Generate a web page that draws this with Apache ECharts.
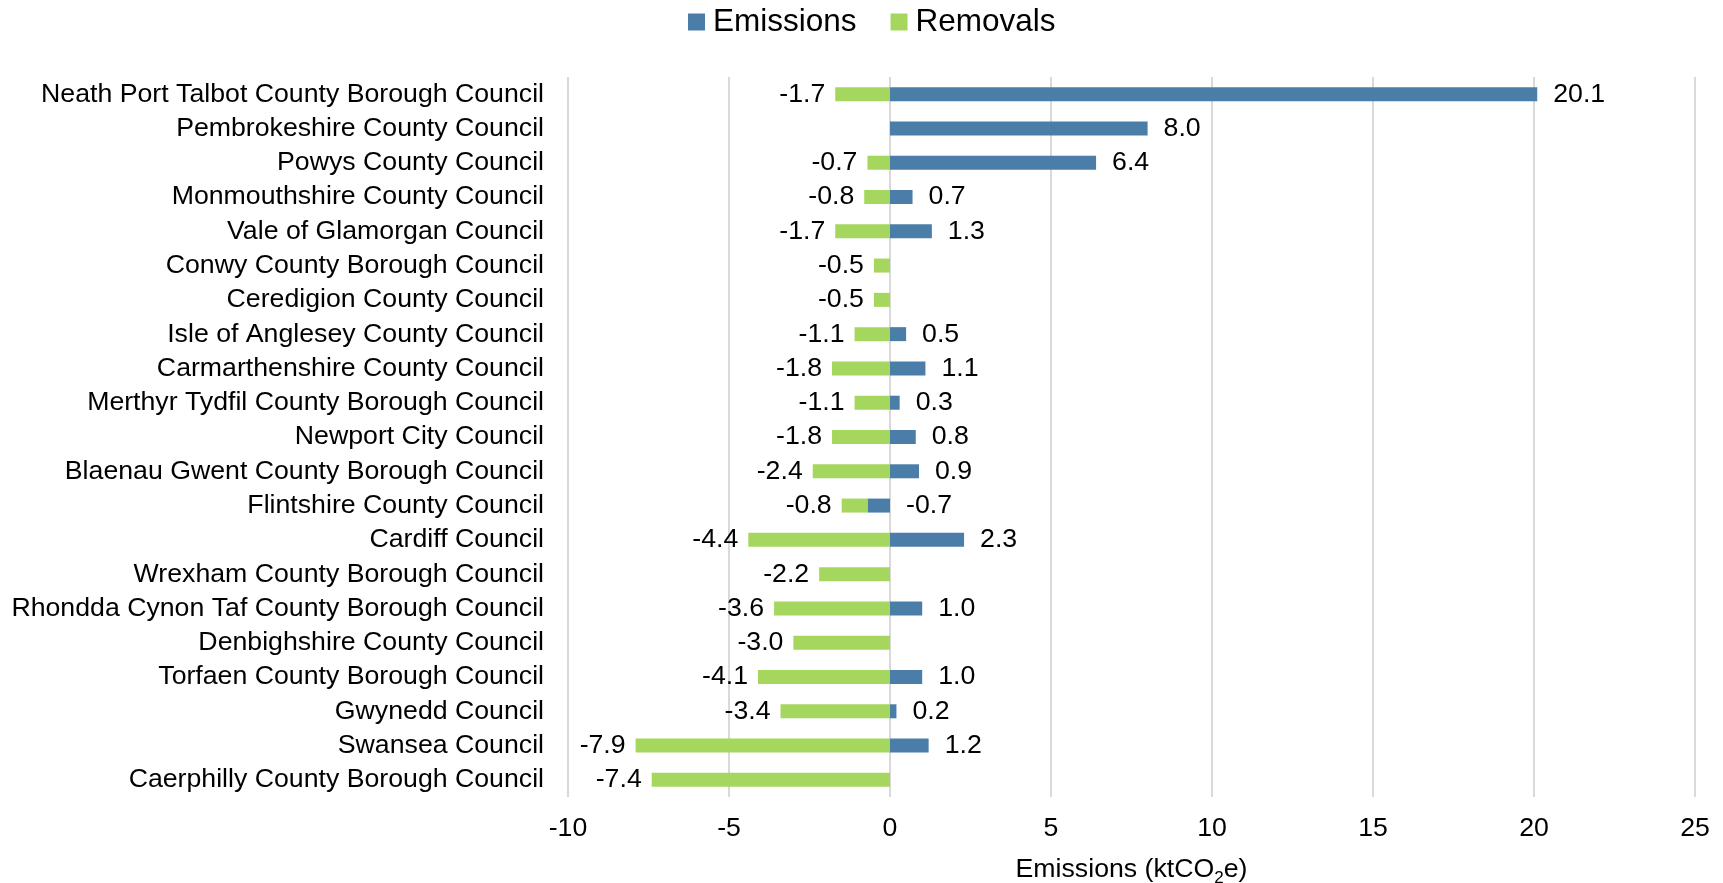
<!DOCTYPE html>
<html>
<head>
<meta charset="utf-8">
<script src="https://cdn.jsdelivr.net/npm/echarts@6/dist/echarts.min.js"></script>
<style>
html,body{margin:0;padding:0;background:#fff;}
#chart{width:1723px;height:883px;}
</style>
</head>
<body>
<div id="chart"></div>
<script>
const categories = [
  'Neath Port Talbot County Borough Council',
  'Pembrokeshire County Council',
  'Powys County Council',
  'Monmouthshire County Council',
  'Vale of Glamorgan Council',
  'Conwy County Borough Council',
  'Ceredigion County Council',
  'Isle of Anglesey County Council',
  'Carmarthenshire County Council',
  'Merthyr Tydfil County Borough Council',
  'Newport City Council',
  'Blaenau Gwent County Borough Council',
  'Flintshire County Council',
  'Cardiff Council',
  'Wrexham County Borough Council',
  'Rhondda Cynon Taf County Borough Council',
  'Denbighshire County Council',
  'Torfaen County Borough Council',
  'Gwynedd Council',
  'Swansea Council',
  'Caerphilly County Borough Council'
];
const emissions = [20.1, 8.0, 6.4, 0.7, 1.3, null, null, 0.5, 1.1, 0.3, 0.8, 0.9, -0.7, 2.3, null, 1.0, null, 1.0, 0.2, 1.2, null];
const removals = [-1.7, null, -0.7, -0.8, -1.7, -0.5, -0.5, -1.1, -1.8, -1.1, -1.8, -2.4, -0.8, -4.4, -2.2, -3.6, -3.0, -4.1, -3.4, -7.9, -7.4];
const xTicks = { min: -10, max: 25, interval: 5 };

const FONT = "'Liberation Sans', Arial, sans-serif";
const FS = 26.7;
const chart = echarts.init(document.getElementById('chart'), null, { renderer: 'canvas' });
chart.setOption({
  animation: false,
  backgroundColor: '#ffffff',
  textStyle: { fontFamily: FONT, color: '#000' },
  legend: {
    top: 6,
    left: 688,
    padding: 0,
    icon: 'rect',
    itemWidth: 17,
    itemHeight: 17,
    itemGap: 34,
    textStyle: { fontSize: 31.5, color: '#000', fontFamily: FONT, padding: [0, 0, 0, 3] },
    data: ['Emissions', 'Removals']
  },
  grid: { left: 568, right: 28, top: 77, bottom: 86, containLabel: false, outerBoundsMode: 'none' },
  xAxis: {
    type: 'value',
    min: xTicks.min, max: xTicks.max, interval: xTicks.interval,
    axisLine: { show: false },
    axisTick: { show: false },
    axisLabel: { fontSize: FS, color: '#000', margin: 18, fontFamily: FONT },
    splitLine: { show: true, lineStyle: { color: '#d9d9d9', width: 2 } },
    name: 'Emissions (ktCO{sub|2}e)',
    nameLocation: 'middle',
    nameGap: 56,
    nameTextStyle: {
      fontSize: FS, color: '#000', fontFamily: FONT,
      rich: { sub: { fontSize: 17, color: '#000', fontFamily: FONT, verticalAlign: 'bottom', padding: [17, 0, 0, 0] } }
    }
  },
  yAxis: {
    type: 'category',
    data: categories,
    inverse: true,
    axisLine: { show: false, onZero: false },
    axisTick: { show: false },
    axisLabel: { fontSize: FS, color: '#000', margin: 24, fontFamily: FONT, interval: 0 }
  },
  series: [
    {
      name: 'Emissions',
      type: 'bar',
      stack: 'total',
      barWidth: 14,
      data: emissions,
      itemStyle: { color: '#4a7ea8' },
      label: {
        show: true, position: 'right', distance: 16,
        fontSize: FS, color: '#000', fontFamily: FONT,
        formatter: p => (p.value == null ? '' : Number(p.value).toFixed(1))
      }
    },
    {
      name: 'Removals',
      type: 'bar',
      stack: 'total',
      barWidth: 14,
      data: removals,
      itemStyle: { color: '#a5d65d' },
      label: {
        show: true, position: 'left', distance: 10,
        fontSize: FS, color: '#000', fontFamily: FONT,
        formatter: p => (p.value == null ? '' : Number(p.value).toFixed(1))
      }
    }
  ]
});
</script>
</body>
</html>
